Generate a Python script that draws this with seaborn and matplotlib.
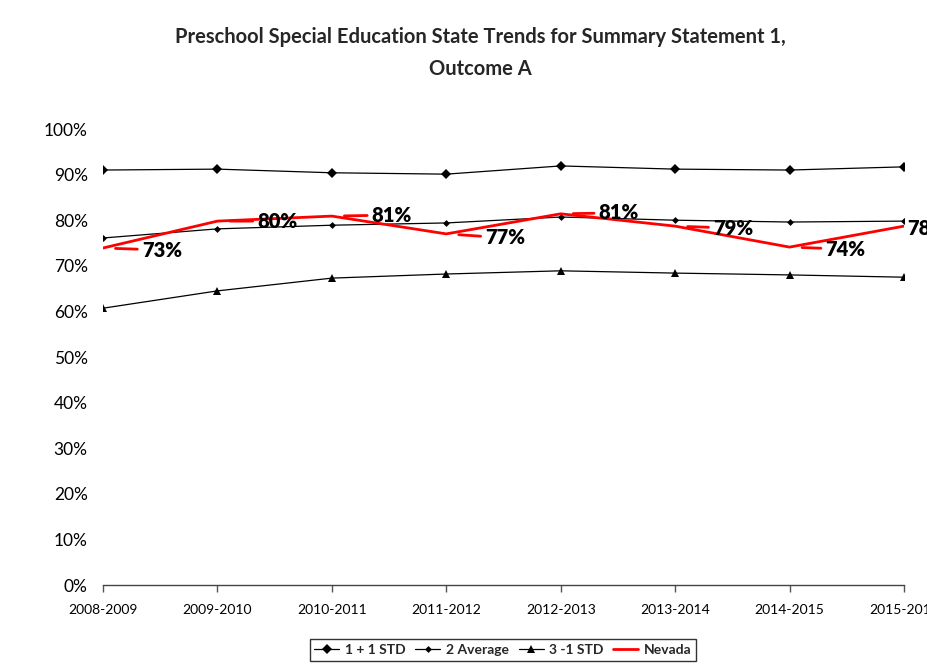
import matplotlib
matplotlib.use("Agg")
import matplotlib.pyplot as plt
import seaborn as sns
import pandas as pd
from matplotlib.ticker import PercentFormatter

years = ["2008-2009", "2009-2010", "2010-2011", "2011-2012",
         "2012-2013", "2013-2014", "2014-2015", "2015-2016"]
plus_std = [91.0, 91.2, 90.4, 90.1, 91.9, 91.2, 91.0, 91.7]
average = [76.1, 78.1, 78.9, 79.4, 80.7, 80.0, 79.6, 79.8]
minus_std = [60.7, 64.5, 67.3, 68.2, 68.9, 68.4, 68.0, 67.5]
nevada = [73.9, 79.8, 80.9, 77.0, 81.4, 78.7, 74.1, 78.7]
nevada_labels = ["73%", "80%", "81%", "77%", "81%", "79%", "74%", "78%"]

sns.set_theme(style="white")
plt.rcParams["font.family"] = ["Lato", "DejaVu Sans"]

fig = plt.figure(figsize=(9.28, 6.66), dpi=100)
ax = fig.add_axes([103 / 928, 1 - 585 / 666, (904 - 103) / 928, (585 - 129) / 666])

xs = list(range(len(years)))
df = pd.DataFrame({"x": xs, "p": plus_std, "a": average, "m": minus_std, "n": nevada})

sns.lineplot(data=df, x="x", y="p", ax=ax, color="black", lw=0.9, marker="D",
             markersize=5, markeredgewidth=0, label="1 + 1 STD")
sns.lineplot(data=df, x="x", y="a", ax=ax, color="black", lw=0.9, marker="D",
             markersize=3.5, markeredgewidth=0, label="2 Average")
sns.lineplot(data=df, x="x", y="m", ax=ax, color="black", lw=0.9, marker="^",
             markersize=6, markeredgewidth=0, label="3 -1 STD")
sns.lineplot(data=df, x="x", y="n", ax=ax, color="#ff0000", lw=2.0,
             label="Nevada")

offsets = [(39, -2), (40, 0), (40, 1), (39, -4), (38, 1), (38, -2), (36, -2), (3, -2)]
for i, (v, lab) in enumerate(zip(nevada, nevada_labels)):
    dx, dy = offsets[i]
    ap = None
    if i < len(nevada) - 1:
        ap = dict(arrowstyle="-", color="#ff0000", lw=2.0, shrinkA=1, shrinkB=9)
    ax.annotate(lab, xy=(i, v), xytext=(dx, dy), textcoords="offset pixels",
                ha="left", va="center", fontsize=14.5, fontweight="heavy",
                color="black", arrowprops=ap, annotation_clip=False, clip_on=False)

ax.set_xlim(0, 7)
ax.set_ylim(0, 100)
ax.set_yticks(range(0, 101, 10))
ax.yaxis.set_major_formatter(PercentFormatter(decimals=0))
ax.set_xticks(xs)
ax.set_xticklabels(years)
ax.tick_params(axis="y", length=0, labelsize=12.5, pad=11, colors="black")
ax.tick_params(axis="x", length=5, width=1, direction="out", bottom=True,
               labelsize=10, pad=9, colors="black", color="#555555")
ax.set_xlabel("")
ax.set_ylabel("")
for s in ["top", "right", "left"]:
    ax.spines[s].set_visible(False)
ax.spines["bottom"].set_color("#444444")
ax.spines["bottom"].set_linewidth(1.0)
ax.grid(False)

fig.suptitle("Preschool Special Education State Trends for Summary Statement 1,\nOutcome A",
             x=480 / 928, y=1 - 27 / 666, fontsize=14.5, fontweight="bold",
             va="top", linespacing=1.75)

leg = ax.legend(loc="center", bbox_to_anchor=(503 / 928, 16 / 666),
                bbox_transform=fig.transFigure, ncol=4, frameon=True,
                fancybox=False, edgecolor="black",
                prop={"weight": "bold", "size": 10}, handlelength=1.8,
                columnspacing=0.7, handletextpad=0.4, borderpad=0.35)
leg.get_frame().set_linewidth(1.0)

fig.savefig("out.png", dpi=100, facecolor="white")
